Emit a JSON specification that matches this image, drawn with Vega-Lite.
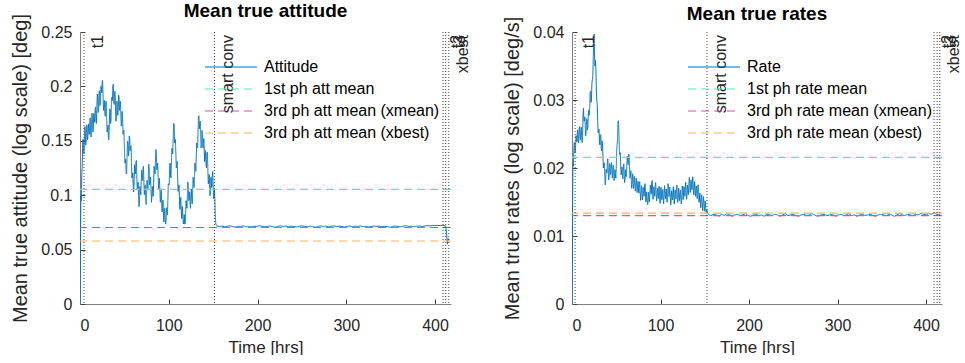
{
  "$schema": "https://vega.github.io/schema/vega-lite/v6.json",
  "background": "white",
  "padding": {"left": 10, "top": 2, "right": 5, "bottom": 0},
  "config": {
    "view": {"stroke": null},
    "font": "Liberation Sans",
    "axis": {"grid": false, "domainColor": "#808080", "tickColor": "#404040", "labelColor": "#262626", "titleColor": "#262626", "labelFont": "Liberation Sans", "titleFont": "Liberation Sans", "labelFontSize": 16, "titleFontSize": 17, "titleFontWeight": "normal", "tickSize": -5, "labelPadding": 13},
    "axisY": {"titlePadding": 10, "titleFontSize": 20, "format": "~g"},
    "axisX": {"titlePadding": 6, "labelPadding": 18, "format": "d"},
    "title": {"font": "Liberation Sans", "fontSize": 19, "fontWeight": "bold", "color": "#000", "offset": 5, "dy": 13},
    "legend": {"orient": "none", "symbolType": "M-2,0H2", "symbolSize": 676, "symbolStrokeWidth": 1.2, "labelFontSize": 16, "labelFont": "Liberation Sans", "labelColor": "#000", "labelOffset": 19, "labelLimit": 0, "padding": 0, "rowPadding": 0, "title": null}
  },
  "bounds": "flush",
  "spacing": 121,
  "datasets": {
    "att": [
      {"t":0,"v":0.0},{"t":0.5,"v":0.05},{"t":1,"v":0.1},{"t":1.5,"v":0.095},{"t":2,"v":0.12},{"t":3,"v":0.147},{"t":4,"v":0.14},{"t":5,"v":0.152},{"t":6,"v":0.158},{"t":7,"v":0.15},{"t":8,"v":0.163},{"t":9,"v":0.155},{"t":10,"v":0.16},{"t":11,"v":0.168},{"t":12,"v":0.158},{"t":13,"v":0.165},{"t":14,"v":0.17},{"t":15,"v":0.162},{"t":16,"v":0.172},{"t":17,"v":0.178},{"t":18,"v":0.168},{"t":19,"v":0.18},{"t":20,"v":0.19},{"t":21,"v":0.178},{"t":22,"v":0.196},{"t":23,"v":0.185},{"t":24,"v":0.199},{"t":25,"v":0.205},{"t":26,"v":0.19},{"t":27,"v":0.182},{"t":28,"v":0.176},{"t":29,"v":0.185},{"t":30,"v":0.172},{"t":31,"v":0.16},{"t":32,"v":0.153},{"t":33,"v":0.165},{"t":34,"v":0.178},{"t":35,"v":0.17},{"t":36,"v":0.19},{"t":37,"v":0.2},{"t":38,"v":0.188},{"t":39,"v":0.195},{"t":40,"v":0.18},{"t":41,"v":0.172},{"t":42,"v":0.185},{"t":43,"v":0.178},{"t":44,"v":0.19},{"t":45,"v":0.182},{"t":46,"v":0.175},{"t":47,"v":0.168},{"t":48,"v":0.17},{"t":49,"v":0.158},{"t":50,"v":0.145},{"t":51,"v":0.13},{"t":52,"v":0.12},{"t":53,"v":0.135},{"t":54,"v":0.148},{"t":55,"v":0.14},{"t":56,"v":0.153},{"t":57,"v":0.145},{"t":58,"v":0.13},{"t":59,"v":0.118},{"t":60,"v":0.107},{"t":61,"v":0.115},{"t":62,"v":0.125},{"t":63,"v":0.13},{"t":64,"v":0.118},{"t":65,"v":0.108},{"t":66,"v":0.1},{"t":67,"v":0.095},{"t":68,"v":0.105},{"t":69,"v":0.112},{"t":70,"v":0.118},{"t":71,"v":0.125},{"t":72,"v":0.112},{"t":73,"v":0.105},{"t":74,"v":0.098},{"t":75,"v":0.101},{"t":76,"v":0.11},{"t":77,"v":0.118},{"t":78,"v":0.123},{"t":79,"v":0.112},{"t":80,"v":0.105},{"t":81,"v":0.098},{"t":82,"v":0.102},{"t":83,"v":0.112},{"t":84,"v":0.125},{"t":85,"v":0.13},{"t":86,"v":0.138},{"t":87,"v":0.125},{"t":88,"v":0.118},{"t":89,"v":0.11},{"t":90,"v":0.105},{"t":91,"v":0.098},{"t":92,"v":0.095},{"t":93,"v":0.09},{"t":94,"v":0.085},{"t":95,"v":0.082},{"t":96,"v":0.078},{"t":97,"v":0.076},{"t":98,"v":0.085},{"t":99,"v":0.095},{"t":100,"v":0.11},{"t":101,"v":0.125},{"t":102,"v":0.118},{"t":103,"v":0.13},{"t":104,"v":0.14},{"t":105,"v":0.152},{"t":106,"v":0.165},{"t":107,"v":0.148},{"t":108,"v":0.138},{"t":109,"v":0.128},{"t":110,"v":0.118},{"t":111,"v":0.105},{"t":112,"v":0.098},{"t":113,"v":0.092},{"t":114,"v":0.088},{"t":115,"v":0.085},{"t":116,"v":0.078},{"t":117,"v":0.075},{"t":118,"v":0.0735},{"t":119,"v":0.082},{"t":120,"v":0.092},{"t":121,"v":0.1},{"t":122,"v":0.108},{"t":123,"v":0.098},{"t":124,"v":0.092},{"t":125,"v":0.1},{"t":126,"v":0.095},{"t":127,"v":0.105},{"t":128,"v":0.112},{"t":129,"v":0.118},{"t":130,"v":0.125},{"t":131,"v":0.135},{"t":132,"v":0.145},{"t":133,"v":0.158},{"t":134,"v":0.173},{"t":135,"v":0.165},{"t":136,"v":0.155},{"t":137,"v":0.148},{"t":138,"v":0.155},{"t":139,"v":0.148},{"t":140,"v":0.14},{"t":141,"v":0.138},{"t":142,"v":0.128},{"t":143,"v":0.138},{"t":144,"v":0.125},{"t":145,"v":0.112},{"t":146,"v":0.11},{"t":147,"v":0.105},{"t":148,"v":0.112},{"t":149,"v":0.118},{"t":150,"v":0.11},{"t":151,"v":0.1},{"t":152,"v":0.095},{"t":152.5,"v":0.08},{"t":153,"v":0.0735},
      {"t":2.5,"v":0.1255},{"t":3.5,"v":0.1515},{"t":4.5,"v":0.138},{"t":5.5,"v":0.163},{"t":6.5,"v":0.146},{"t":7.5,"v":0.1645},{"t":8.5,"v":0.151},{"t":9.5,"v":0.1655},{"t":10.5,"v":0.156},{"t":11.5,"v":0.171},{"t":12.5,"v":0.1535},{"t":13.5,"v":0.1755},{"t":14.5,"v":0.158},{"t":15.5,"v":0.175},{"t":16.5,"v":0.167},{"t":17.5,"v":0.181},{"t":18.5,"v":0.166},{"t":19.5,"v":0.193},{"t":20.5,"v":0.176},{"t":21.5,"v":0.195},{"t":22.5,"v":0.1825},{"t":23.5,"v":0.2},{"t":24.5,"v":0.194},{"t":25.5,"v":0.2055},{"t":26.5,"v":0.178},{"t":27.5,"v":0.187},{"t":28.5,"v":0.1725},{"t":29.5,"v":0.1865},{"t":30.5,"v":0.158},{"t":31.5,"v":0.1645},{"t":32.5,"v":0.151},{"t":33.5,"v":0.1795},{"t":34.5,"v":0.166},{"t":35.5,"v":0.188},{"t":36.5,"v":0.187},{"t":37.5,"v":0.202},{"t":38.5,"v":0.1835},{"t":39.5,"v":0.1955},{"t":40.5,"v":0.168},{"t":41.5,"v":0.1865},{"t":42.5,"v":0.1735},{"t":43.5,"v":0.192},{"t":44.5,"v":0.178},{"t":45.5,"v":0.1865},{"t":46.5,"v":0.1635},{"t":47.5,"v":0.177},{"t":48.5,"v":0.156},{"t":49.5,"v":0.1595},{"t":50.5,"v":0.1295},{"t":51.5,"v":0.133},{"t":52.5,"v":0.1195},{"t":53.5,"v":0.1495},{"t":54.5,"v":0.136},{"t":55.5,"v":0.1545},{"t":56.5,"v":0.141},{"t":57.5,"v":0.1455},{"t":58.5,"v":0.116},{"t":59.5,"v":0.1205},{"t":60.5,"v":0.103},{"t":61.5,"v":0.128},{"t":62.5,"v":0.1195},{"t":63.5,"v":0.132},{"t":64.5,"v":0.105},{"t":65.5,"v":0.112},{"t":66.5,"v":0.0895},{"t":67.5,"v":0.108},{"t":68.5,"v":0.1005},{"t":69.5,"v":0.123},{"t":70.5,"v":0.1135},{"t":71.5,"v":0.1265},{"t":72.5,"v":0.1005},{"t":73.5,"v":0.1095},{"t":74.5,"v":0.0915},{"t":75.5,"v":0.1135},{"t":76.5,"v":0.106},{"t":77.5,"v":0.1285},{"t":78.5,"v":0.1095},{"t":79.5,"v":0.1165},{"t":80.5,"v":0.0935},{"t":81.5,"v":0.108},{"t":82.5,"v":0.099},{"t":83.5,"v":0.1265},{"t":84.5,"v":0.1195},{"t":85.5,"v":0.142},{"t":86.5,"v":0.1235},{"t":87.5,"v":0.1295},{"t":88.5,"v":0.106},{"t":89.5,"v":0.1155},{"t":90.5,"v":0.0935},{"t":91.5,"v":0.1045},{"t":92.5,"v":0.0845},{"t":93.5,"v":0.0955},{"t":94.5,"v":0.0755},{"t":95.5,"v":0.088},{"t":96.5,"v":0.0735},{"t":97.5,"v":0.0885},{"t":98.5,"v":0.082},{"t":99.5,"v":0.1105},{"t":100.5,"v":0.1095},{"t":101.5,"v":0.1295},{"t":102.5,"v":0.116},{"t":103.5,"v":0.143},{"t":104.5,"v":0.138},{"t":105.5,"v":0.166},{"t":106.5,"v":0.1485},{"t":107.5,"v":0.151},{"t":108.5,"v":0.125},{"t":109.5,"v":0.131},{"t":110.5,"v":0.1035},{"t":111.5,"v":0.1095},{"t":112.5,"v":0.087},{"t":113.5,"v":0.098},{"t":114.5,"v":0.0785},{"t":115.5,"v":0.0895},{"t":116.5,"v":0.0735},{"t":117.5,"v":0.0822},{"t":118.5,"v":0.0738},{"t":119.5,"v":0.095},{"t":120.5,"v":0.088},{"t":121.5,"v":0.112},{"t":122.5,"v":0.095},{"t":123.5,"v":0.103},{"t":124.5,"v":0.088},{"t":125.5,"v":0.1055},{"t":126.5,"v":0.092},{"t":127.5,"v":0.1165},{"t":128.5,"v":0.107},{"t":129.5,"v":0.1295},{"t":130.5,"v":0.122},{"t":131.5,"v":0.148},{"t":132.5,"v":0.1435},{"t":133.5,"v":0.172},{"t":134.5,"v":0.161},{"t":135.5,"v":0.168},{"t":136.5,"v":0.1435},{"t":137.5,"v":0.1595},{"t":138.5,"v":0.1435},{"t":139.5,"v":0.152},{"t":140.5,"v":0.131},{"t":141.5,"v":0.141},{"t":142.5,"v":0.125},{"t":143.5,"v":0.1395},{"t":144.5,"v":0.1105},{"t":145.5,"v":0.119},{"t":146.5,"v":0.0995},{"t":147.5,"v":0.1165},{"t":148.5,"v":0.107},{"t":149.5,"v":0.122},{"t":150.5,"v":0.097},{"t":151.5,"v":0.1055},
      {"t":154,"v":0.0718},{"t":157,"v":0.0712},{"t":160,"v":0.0716},{"t":163,"v":0.0709},{"t":166,"v":0.0714},{"t":169,"v":0.0719},{"t":172,"v":0.0711},{"t":175,"v":0.0707},{"t":178,"v":0.0715},{"t":181,"v":0.0712},{"t":184,"v":0.0718},{"t":187,"v":0.071},{"t":190,"v":0.0713},{"t":193,"v":0.0708},{"t":196,"v":0.0716},{"t":199,"v":0.0712},{"t":202,"v":0.072},{"t":205,"v":0.0714},{"t":208,"v":0.0709},{"t":211,"v":0.0713},{"t":214,"v":0.0717},{"t":217,"v":0.0711},{"t":220,"v":0.0706},{"t":223,"v":0.0714},{"t":226,"v":0.0719},{"t":229,"v":0.0712},{"t":232,"v":0.0716},{"t":235,"v":0.071},{"t":238,"v":0.0715},{"t":241,"v":0.0712},{"t":244,"v":0.0708},{"t":247,"v":0.0714},{"t":250,"v":0.0719},{"t":253,"v":0.0713},{"t":256,"v":0.0709},{"t":259,"v":0.0716},{"t":262,"v":0.0711},{"t":265,"v":0.0706},{"t":268,"v":0.0713},{"t":271,"v":0.0718},{"t":274,"v":0.0712},{"t":277,"v":0.0715},{"t":280,"v":0.0709},{"t":283,"v":0.0714},{"t":286,"v":0.0719},{"t":289,"v":0.0711},{"t":292,"v":0.0716},{"t":295,"v":0.0712},{"t":298,"v":0.0707},{"t":301,"v":0.0713},{"t":304,"v":0.0717},{"t":307,"v":0.071},{"t":310,"v":0.0715},{"t":313,"v":0.0712},{"t":316,"v":0.0718},{"t":319,"v":0.0711},{"t":322,"v":0.0714},{"t":325,"v":0.0708},{"t":328,"v":0.0713},{"t":331,"v":0.0717},{"t":334,"v":0.0712},{"t":337,"v":0.0716},{"t":340,"v":0.0709},{"t":343,"v":0.0714},{"t":346,"v":0.0711},{"t":349,"v":0.0706},{"t":352,"v":0.0712},{"t":355,"v":0.0717},{"t":358,"v":0.0713},{"t":361,"v":0.0709},{"t":364,"v":0.0715},{"t":367,"v":0.072},{"t":370,"v":0.0713},{"t":373,"v":0.0716},{"t":376,"v":0.071},{"t":379,"v":0.0714},{"t":382,"v":0.0718},{"t":385,"v":0.0712},{"t":388,"v":0.0716},{"t":391,"v":0.0721},{"t":394,"v":0.0718},{"t":397,"v":0.0722},{"t":400,"v":0.0719},{"t":403,"v":0.0723},{"t":406,"v":0.072},{"t":409,"v":0.0724},{"t":411,"v":0.0718},{"t":412,"v":0.0717},{"t":413,"v":0.065},{"t":414,"v":0.055},{"t":415,"v":0.06},{"t":416,"v":0.0595}
    ],
    "rate": [
      {"t":0,"v":0.0},{"t":0.5,"v":0.0103},{"t":1,"v":0.0206},{"t":2,"v":0.022},{"t":3,"v":0.0235},{"t":4,"v":0.023},{"t":5,"v":0.0245},{"t":6,"v":0.0252},{"t":7,"v":0.024},{"t":8,"v":0.0254},{"t":9,"v":0.0248},{"t":10,"v":0.0255},{"t":11,"v":0.0245},{"t":12,"v":0.025},{"t":13,"v":0.0288},{"t":14,"v":0.027},{"t":15,"v":0.026},{"t":16,"v":0.0255},{"t":17,"v":0.027},{"t":18,"v":0.0262},{"t":19,"v":0.0285},{"t":20,"v":0.029},{"t":21,"v":0.0313},{"t":22,"v":0.03},{"t":23,"v":0.033},{"t":24,"v":0.036},{"t":25,"v":0.0397},{"t":26,"v":0.035},{"t":27,"v":0.0346},{"t":28,"v":0.03},{"t":29,"v":0.027},{"t":30,"v":0.0254},{"t":31,"v":0.024},{"t":32,"v":0.0248},{"t":33,"v":0.023},{"t":34,"v":0.024},{"t":35,"v":0.0215},{"t":36,"v":0.0205},{"t":37,"v":0.019},{"t":38,"v":0.0181},{"t":39,"v":0.0195},{"t":40,"v":0.021},{"t":41,"v":0.0197},{"t":42,"v":0.0188},{"t":43,"v":0.0205},{"t":44,"v":0.0196},{"t":45,"v":0.02},{"t":46,"v":0.019},{"t":47,"v":0.0198},{"t":48,"v":0.0185},{"t":49,"v":0.019},{"t":50,"v":0.02},{"t":51,"v":0.0235},{"t":52,"v":0.0269},{"t":53,"v":0.025},{"t":54,"v":0.022},{"t":55,"v":0.0205},{"t":56,"v":0.0195},{"t":57,"v":0.0188},{"t":58,"v":0.02},{"t":59,"v":0.0192},{"t":60,"v":0.0185},{"t":61,"v":0.019},{"t":62,"v":0.0205},{"t":63,"v":0.021},{"t":64,"v":0.022},{"t":65,"v":0.02},{"t":66,"v":0.019},{"t":67,"v":0.0182},{"t":68,"v":0.0178},{"t":69,"v":0.0185},{"t":70,"v":0.0175},{"t":71,"v":0.018},{"t":72,"v":0.0172},{"t":73,"v":0.0178},{"t":74,"v":0.017},{"t":75,"v":0.0171},{"t":76,"v":0.0175},{"t":77,"v":0.0165},{"t":78,"v":0.016},{"t":79,"v":0.0168},{"t":80,"v":0.0158},{"t":81,"v":0.0165},{"t":82,"v":0.0172},{"t":83,"v":0.0162},{"t":84,"v":0.0158},{"t":85,"v":0.0152},{"t":86,"v":0.0151},{"t":87,"v":0.0158},{"t":88,"v":0.0162},{"t":89,"v":0.0168},{"t":90,"v":0.0175},{"t":91,"v":0.0168},{"t":92,"v":0.016},{"t":93,"v":0.0165},{"t":94,"v":0.0172},{"t":95,"v":0.0165},{"t":96,"v":0.0158},{"t":97,"v":0.0162},{"t":98,"v":0.0168},{"t":99,"v":0.0158},{"t":100,"v":0.0158},{"t":101,"v":0.0165},{"t":102,"v":0.0162},{"t":103,"v":0.0155},{"t":104,"v":0.016},{"t":105,"v":0.0168},{"t":106,"v":0.0162},{"t":107,"v":0.0156},{"t":108,"v":0.0163},{"t":109,"v":0.0171},{"t":110,"v":0.0165},{"t":111,"v":0.0158},{"t":112,"v":0.0153},{"t":113,"v":0.016},{"t":114,"v":0.0166},{"t":115,"v":0.0159},{"t":116,"v":0.0155},{"t":117,"v":0.0161},{"t":118,"v":0.0168},{"t":119,"v":0.0162},{"t":120,"v":0.0157},{"t":121,"v":0.0164},{"t":122,"v":0.016},{"t":123,"v":0.0154},{"t":124,"v":0.016},{"t":125,"v":0.0167},{"t":126,"v":0.016},{"t":127,"v":0.0165},{"t":128,"v":0.0172},{"t":129,"v":0.0166},{"t":130,"v":0.0162},{"t":131,"v":0.0168},{"t":132,"v":0.0174},{"t":133,"v":0.0178},{"t":134,"v":0.017},{"t":135,"v":0.0175},{"t":136,"v":0.0181},{"t":137,"v":0.0173},{"t":138,"v":0.0168},{"t":139,"v":0.0172},{"t":140,"v":0.0165},{"t":141,"v":0.0162},{"t":142,"v":0.0168},{"t":143,"v":0.0163},{"t":144,"v":0.0156},{"t":145,"v":0.015},{"t":146,"v":0.0153},{"t":147,"v":0.0148},{"t":148,"v":0.0146},{"t":149,"v":0.015},{"t":150,"v":0.0143},{"t":151,"v":0.014},{"t":152,"v":0.0138},{"t":153,"v":0.0135},{"t":154,"v":0.0132},
      {"t":1.5,"v":0.0203},{"t":2.5,"v":0.02375},{"t":3.5,"v":0.02225},{"t":4.5,"v":0.02475},{"t":5.5,"v":0.02385},{"t":6.5,"v":0.0256},{"t":7.5,"v":0.0237},{"t":8.5,"v":0.0261},{"t":9.5,"v":0.02415},{"t":10.5,"v":0.026},{"t":11.5,"v":0.02375},{"t":12.5,"v":0.0279},{"t":13.5,"v":0.0269},{"t":14.5,"v":0.0275},{"t":15.5,"v":0.02475},{"t":16.5,"v":0.02725},{"t":17.5,"v":0.0256},{"t":18.5,"v":0.02835},{"t":19.5,"v":0.02775},{"t":20.5,"v":0.03115},{"t":21.5,"v":0.02965},{"t":22.5,"v":0.0325},{"t":23.5,"v":0.0335},{"t":24.5,"v":0.03885},{"t":25.5,"v":0.03635},{"t":26.5,"v":0.0358},{"t":27.5,"v":0.0313},{"t":28.5,"v":0.0295},{"t":29.5,"v":0.0252},{"t":30.5,"v":0.0257},{"t":31.5,"v":0.0234},{"t":32.5,"v":0.0249},{"t":33.5,"v":0.0225},{"t":34.5,"v":0.02375},{"t":35.5,"v":0.02},{"t":36.5,"v":0.02075},{"t":37.5,"v":0.01755},{"t":38.5,"v":0.0198},{"t":39.5,"v":0.01925},{"t":40.5,"v":0.02135},{"t":41.5,"v":0.01825},{"t":42.5,"v":0.02065},{"t":43.5,"v":0.01905},{"t":44.5,"v":0.0208},{"t":45.5,"v":0.0185},{"t":46.5,"v":0.0204},{"t":47.5,"v":0.01815},{"t":48.5,"v":0.01975},{"t":49.5,"v":0.0185},{"t":50.5,"v":0.02275},{"t":51.5,"v":0.0242},{"t":52.5,"v":0.02695},{"t":53.5,"v":0.0225},{"t":54.5,"v":0.02225},{"t":55.5,"v":0.019},{"t":56.5,"v":0.02015},{"t":57.5,"v":0.0184},{"t":58.5,"v":0.0206},{"t":59.5,"v":0.01785},{"t":60.5,"v":0.01975},{"t":61.5,"v":0.01875},{"t":62.5,"v":0.02175},{"t":63.5,"v":0.0205},{"t":64.5,"v":0.022},{"t":65.5,"v":0.0185},{"t":66.5,"v":0.0196},{"t":67.5,"v":0.017},{"t":68.5,"v":0.01915},{"t":69.5,"v":0.017},{"t":70.5,"v":0.01875},{"t":71.5,"v":0.0166},{"t":72.5,"v":0.0185},{"t":73.5,"v":0.0164},{"t":74.5,"v":0.01805},{"t":75.5,"v":0.0163},{"t":76.5,"v":0.018},{"t":77.5,"v":0.01525},{"t":78.5,"v":0.0174},{"t":79.5,"v":0.0153},{"t":80.5,"v":0.01715},{"t":81.5,"v":0.01585},{"t":82.5,"v":0.0177},{"t":83.5,"v":0.015},{"t":84.5,"v":0.0165},{"t":85.5,"v":0.0146},{"t":86.5,"v":0.01645},{"t":87.5,"v":0.015},{"t":88.5,"v":0.0175},{"t":89.5,"v":0.01615},{"t":90.5,"v":0.01815},{"t":91.5,"v":0.0154},{"t":92.5,"v":0.01725},{"t":93.5,"v":0.01585},{"t":94.5,"v":0.01785},{"t":95.5,"v":0.01515},{"t":96.5,"v":0.017},{"t":97.5,"v":0.0155},{"t":98.5,"v":0.0173},{"t":99.5,"v":0.0148},{"t":100.5,"v":0.01715},{"t":101.5,"v":0.01535},{"t":102.5,"v":0.01685},{"t":103.5,"v":0.01475},{"t":104.5,"v":0.0174},{"t":105.5,"v":0.0155},{"t":106.5,"v":0.0169},{"t":107.5,"v":0.01495},{"t":108.5,"v":0.0177},{"t":109.5,"v":0.0158},{"t":110.5,"v":0.01715},{"t":111.5,"v":0.01455},{"t":112.5,"v":0.01665},{"t":113.5,"v":0.0153},{"t":114.5,"v":0.01725},{"t":115.5,"v":0.0147},{"t":116.5,"v":0.0168},{"t":117.5,"v":0.01545},{"t":118.5,"v":0.0175},{"t":119.5,"v":0.01495},{"t":120.5,"v":0.01705},{"t":121.5,"v":0.0152},{"t":122.5,"v":0.0167},{"t":123.5,"v":0.0147},{"t":124.5,"v":0.01735},{"t":125.5,"v":0.01535},{"t":126.5,"v":0.01725},{"t":127.5,"v":0.01585},{"t":128.5,"v":0.0179},{"t":129.5,"v":0.0154},{"t":130.5,"v":0.0175},{"t":131.5,"v":0.0161},{"t":132.5,"v":0.0186},{"t":133.5,"v":0.0164},{"t":134.5,"v":0.01825},{"t":135.5,"v":0.0168},{"t":136.5,"v":0.0187},{"t":137.5,"v":0.01605},{"t":138.5,"v":0.018},{"t":139.5,"v":0.01585},{"t":140.5,"v":0.01735},{"t":141.5,"v":0.0155},{"t":142.5,"v":0.01755},{"t":143.5,"v":0.01495},{"t":144.5,"v":0.0163},{"t":145.5,"v":0.01415},{"t":146.5,"v":0.01605},{"t":147.5,"v":0.0137},{"t":148.5,"v":0.0158},{"t":149.5,"v":0.01365},{"t":150.5,"v":0.01515},{"t":151.5,"v":0.0135},{"t":152.5,"v":0.0139},
      {"t":157,"v":0.0130},{"t":160,"v":0.0132},{"t":163,"v":0.0131},{"t":166,"v":0.0129},{"t":169,"v":0.0132},{"t":172,"v":0.0130},{"t":175,"v":0.0133},{"t":178,"v":0.0131},{"t":181,"v":0.0129},{"t":184,"v":0.0131},{"t":187,"v":0.0132},{"t":190,"v":0.0130},{"t":193,"v":0.0131},{"t":196,"v":0.0133},{"t":199,"v":0.0130},{"t":202,"v":0.0129},{"t":205,"v":0.0131},{"t":208,"v":0.0132},{"t":211,"v":0.0130},{"t":214,"v":0.0131},{"t":217,"v":0.0129},{"t":220,"v":0.0132},{"t":223,"v":0.0131},{"t":226,"v":0.0130},{"t":229,"v":0.0132},{"t":232,"v":0.0131},{"t":235,"v":0.0129},{"t":238,"v":0.0131},{"t":241,"v":0.0133},{"t":244,"v":0.0130},{"t":247,"v":0.0131},{"t":250,"v":0.0132},{"t":253,"v":0.0130},{"t":256,"v":0.0129},{"t":259,"v":0.0131},{"t":262,"v":0.0132},{"t":265,"v":0.0130},{"t":268,"v":0.0131},{"t":271,"v":0.0133},{"t":274,"v":0.0131},{"t":277,"v":0.0129},{"t":280,"v":0.0130},{"t":283,"v":0.0132},{"t":286,"v":0.0131},{"t":289,"v":0.0130},{"t":292,"v":0.0132},{"t":295,"v":0.0131},{"t":298,"v":0.0129},{"t":301,"v":0.0131},{"t":304,"v":0.0132},{"t":307,"v":0.0130},{"t":310,"v":0.0131},{"t":313,"v":0.0133},{"t":316,"v":0.0130},{"t":319,"v":0.0131},{"t":322,"v":0.0129},{"t":325,"v":0.0131},{"t":328,"v":0.0132},{"t":331,"v":0.0130},{"t":334,"v":0.0131},{"t":337,"v":0.0132},{"t":340,"v":0.0130},{"t":343,"v":0.0129},{"t":346,"v":0.0131},{"t":349,"v":0.0132},{"t":352,"v":0.0131},{"t":355,"v":0.0130},{"t":358,"v":0.0132},{"t":361,"v":0.0131},{"t":364,"v":0.0129},{"t":367,"v":0.0131},{"t":370,"v":0.0133},{"t":373,"v":0.0131},{"t":376,"v":0.0130},{"t":379,"v":0.0132},{"t":382,"v":0.0131},{"t":385,"v":0.0130},{"t":388,"v":0.0132},{"t":391,"v":0.0131},{"t":394,"v":0.0133},{"t":397,"v":0.0132},{"t":400,"v":0.0131},{"t":403,"v":0.0133},{"t":406,"v":0.0132},{"t":409,"v":0.0134},{"t":412,"v":0.0132},{"t":414,"v":0.0131},{"t":416,"v":0.0132}
    ],
    "hatt": [
      {"s":"1st ph att mean","v":0.1054},
      {"s":"3rd ph att mean (xmean)","v":0.0703},
      {"s":"3rd ph att mean (xbest)","v":0.0579}
    ],
    "hrate": [
      {"s":"1st ph rate mean","v":0.02155},
      {"s":"3rd ph rate mean (xmean)","v":0.01300},
      {"s":"3rd ph rate mean (xbest)","v":0.01335}
    ],
    "vatt": [
      {"t":4.5,"lab":"t1"},{"t":151.5,"lab":"smart conv"},{"t":409,"lab":"t2"},{"t":412,"lab":"t3"},{"t":415.5,"lab":"xbest"}
    ],
    "vrate": [
      {"t":3.5,"lab":"t1"},{"t":152.5,"lab":"smart conv"},{"t":409,"lab":"t2"},{"t":412.5,"lab":"t3"},{"t":415.5,"lab":"xbest"}
    ]
  },
  "hconcat": [
    {
      "width": 371, "height": 272,
      "title": "Mean true attitude",
      "layer": [
        {
          "data": {"name": "att"},
          "mark": {"type": "line", "strokeWidth": 1, "clip": true},
          "encoding": {
            "x": {"field": "t", "type": "quantitative", "scale": {"domain": [0, 418], "nice": false}, "axis": {"values": [0,100,200,300,400], "title": "Time [hrs]"}},
            "y": {"field": "v", "type": "quantitative", "scale": {"domain": [0, 0.25], "nice": false}, "axis": {"values": [0,0.05,0.1,0.15,0.2,0.25], "title": "Mean true attitude (log scale) [deg]"}},
            "color": {"datum": "Attitude", "type": "nominal", "scale": {"domain": ["Attitude","1st ph att mean","3rd ph att mean (xmean)","3rd ph att mean (xbest)"], "range": ["#0072BD","#4DEFB2","#E24FAA","#F7B25F"]}, "legend": {"legendX": 137, "legendY": 21}},
            "strokeDash": {"datum": "Attitude", "type": "nominal", "scale": {"domain": ["Attitude","1st ph att mean","3rd ph att mean (xmean)","3rd ph att mean (xbest)"], "range": [[1,0],[8,5],[8,5],[8,5]]}, "legend": {"legendX": 137, "legendY": 21}}
          }
        },
        {
          "data": {"name": "hatt"},
          "mark": {"type": "rule", "strokeWidth": 1.2},
          "encoding": {
            "y": {"field": "v", "type": "quantitative"},
            "color": {"field": "s", "type": "nominal"},
            "strokeDash": {"field": "s", "type": "nominal"}
          }
        },
        {
          "data": {"name": "vatt"},
          "mark": {"type": "rule", "strokeDash": [1, 2], "color": "#404040", "strokeWidth": 1},
          "encoding": {"x": {"field": "t", "type": "quantitative"}}
        },
        {
          "data": {"name": "vatt"},
          "mark": {"type": "text", "angle": 270, "align": "right", "baseline": "top", "dx": -3, "dy": 6, "fontSize": 16, "font": "Liberation Sans", "color": "#262626"},
          "encoding": {"x": {"field": "t", "type": "quantitative"}, "y": {"datum": 0.25}, "text": {"field": "lab"}}
        }
      ]
    },
    {
      "width": 370, "height": 272,
      "title": "Mean true rates",
      "layer": [
        {
          "data": {"name": "rate"},
          "mark": {"type": "line", "strokeWidth": 1, "clip": true},
          "encoding": {
            "x": {"field": "t", "type": "quantitative", "scale": {"domain": [0, 418], "nice": false}, "axis": {"values": [0,100,200,300,400], "title": "Time [hrs]"}},
            "y": {"field": "v", "type": "quantitative", "scale": {"domain": [0, 0.04], "nice": false}, "axis": {"values": [0,0.01,0.02,0.03,0.04], "title": "Mean true rates (log scale) [deg/s]"}},
            "color": {"datum": "Rate", "type": "nominal", "scale": {"domain": ["Rate","1st ph rate mean","3rd ph rate mean (xmean)","3rd ph rate mean (xbest)"], "range": ["#0072BD","#4DEFB2","#E24FAA","#F7B25F"]}, "legend": {"legendX": 128, "legendY": 21}},
            "strokeDash": {"datum": "Rate", "type": "nominal", "scale": {"domain": ["Rate","1st ph rate mean","3rd ph rate mean (xmean)","3rd ph rate mean (xbest)"], "range": [[1,0],[8,5],[8,5],[8,5]]}, "legend": {"legendX": 128, "legendY": 21}}
          }
        },
        {
          "data": {"name": "hrate"},
          "mark": {"type": "rule", "strokeWidth": 1.2},
          "encoding": {
            "y": {"field": "v", "type": "quantitative"},
            "color": {"field": "s", "type": "nominal"},
            "strokeDash": {"field": "s", "type": "nominal"}
          }
        },
        {
          "data": {"name": "vrate"},
          "mark": {"type": "rule", "strokeDash": [1, 2], "color": "#404040", "strokeWidth": 1},
          "encoding": {"x": {"field": "t", "type": "quantitative"}}
        },
        {
          "data": {"name": "vrate"},
          "mark": {"type": "text", "angle": 270, "align": "right", "baseline": "top", "dx": -3, "dy": 6, "fontSize": 16, "font": "Liberation Sans", "color": "#262626"},
          "encoding": {"x": {"field": "t", "type": "quantitative"}, "y": {"datum": 0.04}, "text": {"field": "lab"}}
        }
      ]
    }
  ],
  "resolve": {"scale": {"color": "independent", "strokeDash": "independent", "x": "independent", "y": "independent"}, "legend": {"color": "independent", "strokeDash": "independent"}}
}
